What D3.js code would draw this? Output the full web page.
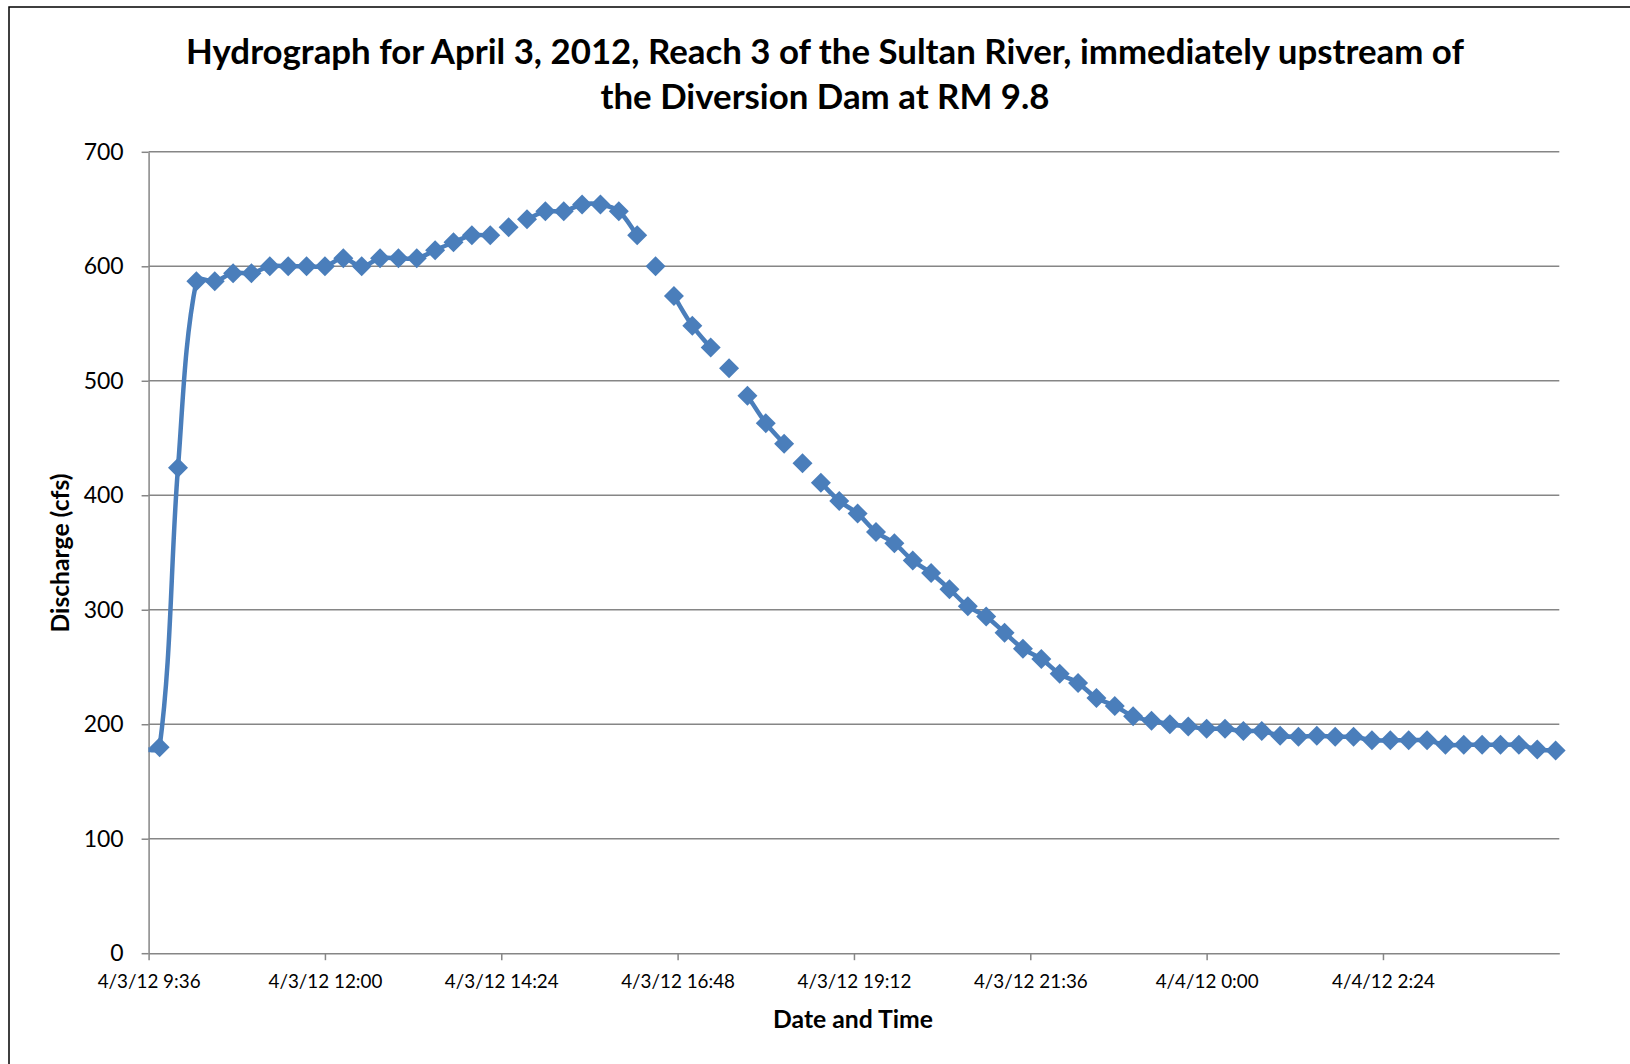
<!DOCTYPE html>
<html>
<head>
<meta charset="utf-8">
<script src="https://cdn.jsdelivr.net/npm/d3@7"></script>
<style>
  body { margin: 0; background: #fff; }
  svg { display: block; }
</style>
</head>
<body>
<div id="chart"></div>
<script>
// readings, 15 min apart (first one sits left of the axis and gets clipped)
var times = [
  "4/3/12 9:30", "4/3/12 9:45", "4/3/12 10:00", "4/3/12 10:15", "4/3/12 10:30", "4/3/12 10:45",
  "4/3/12 11:00", "4/3/12 11:15", "4/3/12 11:30", "4/3/12 11:45", "4/3/12 12:00", "4/3/12 12:15",
  "4/3/12 12:30", "4/3/12 12:45", "4/3/12 13:00", "4/3/12 13:15", "4/3/12 13:30", "4/3/12 13:45",
  "4/3/12 14:00", "4/3/12 14:15", "4/3/12 14:30", "4/3/12 14:45", "4/3/12 15:00", "4/3/12 15:15",
  "4/3/12 15:30", "4/3/12 15:45", "4/3/12 16:00", "4/3/12 16:15", "4/3/12 16:30", "4/3/12 16:45",
  "4/3/12 17:00", "4/3/12 17:15", "4/3/12 17:30", "4/3/12 17:45", "4/3/12 18:00", "4/3/12 18:15",
  "4/3/12 18:30", "4/3/12 18:45", "4/3/12 19:00", "4/3/12 19:15", "4/3/12 19:30", "4/3/12 19:45",
  "4/3/12 20:00", "4/3/12 20:15", "4/3/12 20:30", "4/3/12 20:45", "4/3/12 21:00", "4/3/12 21:15",
  "4/3/12 21:30", "4/3/12 21:45", "4/3/12 22:00", "4/3/12 22:15", "4/3/12 22:30", "4/3/12 22:45",
  "4/3/12 23:00", "4/3/12 23:15", "4/3/12 23:30", "4/3/12 23:45", "4/4/12 0:00", "4/4/12 0:15",
  "4/4/12 0:30", "4/4/12 0:45", "4/4/12 1:00", "4/4/12 1:15", "4/4/12 1:30", "4/4/12 1:45",
  "4/4/12 2:00", "4/4/12 2:15", "4/4/12 2:30", "4/4/12 2:45", "4/4/12 3:00", "4/4/12 3:15",
  "4/4/12 3:30", "4/4/12 3:45", "4/4/12 4:00", "4/4/12 4:15", "4/4/12 4:30", "4/4/12 4:45"
];
var discharge = [
  178, 180, 424, 587, 587, 594,
  594, 600, 600, 600, 600, 607,
  600, 607, 607, 607, 614, 621,
  627, 627, 634, 641, 648, 648,
  654, 654, 648, 627, 600, 574,
  548, 529, 511, 487, 463, 445,
  428, 411, 395, 384, 368, 358,
  343, 332, 318, 303, 294, 280,
  266, 257, 244, 236, 223, 216,
  207, 203, 200, 198, 196, 196,
  194, 194, 190, 189, 190, 189,
  189, 186, 186, 186, 186, 182,
  182, 182, 182, 182, 178, 177
];
// the line is not drawn between these readings and the next one
var gapAfter = ["4/3/12 14:15", "4/3/12 14:30", "4/3/12 16:15", "4/3/12 16:30",
                "4/3/12 17:15", "4/3/12 17:30", "4/3/12 18:15", "4/3/12 18:30"];

var xTickLabels = ["4/3/12 9:36", "4/3/12 12:00", "4/3/12 14:24", "4/3/12 16:48",
                   "4/3/12 19:12", "4/3/12 21:36", "4/4/12 0:00", "4/4/12 2:24"];
var xDomain = ["4/3/12 9:36", "4/4/12 4:48"];
var yTicks = [0, 100, 200, 300, 400, 500, 600, 700];

var titleLines = ["Hydrograph for April 3, 2012, Reach 3 of the Sultan River, immediately upstream of",
                  "the Diversion Dam at RM 9.8"];
var xTitle = "Date and Time";
var yTitle = "Discharge (cfs)";

var W = 1630, H = 1064;
var plot = { left: 148.6, right: 1559.3, top: 151.8, bottom: 953.2 };
var blue = "#4a7ebb", grey = "#868686";
var font = "Lato, 'Open Sans', sans-serif";

var parse = d3.timeParse("%m/%d/%y %H:%M");

var pts = times.map(function (t, i) { return { t: parse(t), v: discharge[i], key: t }; });

// split into drawn pieces
var pieces = [[]];
pts.forEach(function (p) {
    pieces[pieces.length - 1].push(p);
    if (gapAfter.indexOf(p.key) >= 0) pieces.push([]);
});

var x = d3.scaleTime()
    .domain(xDomain.map(parse))
    .range([plot.left, plot.right]);
var y = d3.scaleLinear()
    .domain([0, 700])
    .range([plot.bottom, plot.top]);

var svg = d3.select("#chart").append("svg")
    .attr("width", W)
    .attr("height", H);

svg.append("rect").attr("width", W).attr("height", H).attr("fill", "#fff");

// chart area border (runs off right/bottom in the original)
svg.append("rect")
    .attr("x", 9).attr("y", 7)
    .attr("width", W + 20).attr("height", H + 20)
    .attr("fill", "none")
    .attr("stroke", "#000")
    .attr("stroke-width", 1.5);

function fitText(sel, target) {
    var fs = parseFloat(sel.attr("font-size"));
    var len = sel.node().getComputedTextLength();
    return fs * target / len;
}

// spreadsheet-style smoothing: tangent along neighbour chord,
// handle length a third of the segment it belongs to
function smoothPath(data) {
    var P = data.map(function (d) { return [x(d.t), y(d.v)]; });
    var p = d3.path();
    p.moveTo(P[0][0], P[0][1]);
    if (P.length === 2) { p.lineTo(P[1][0], P[1][1]); return p.toString(); }
    function tan(i) {
        var a = P[Math.max(i - 1, 0)], b = P[Math.min(i + 1, P.length - 1)];
        var dx = b[0] - a[0], dy = b[1] - a[1], l = Math.sqrt(dx * dx + dy * dy) || 1;
        return [dx / l, dy / l];
    }
    for (var i = 0; i < P.length - 1; i++) {
        var a = P[i], b = P[i + 1];
        var seg = Math.sqrt((b[0] - a[0]) * (b[0] - a[0]) + (b[1] - a[1]) * (b[1] - a[1])) / 3;
        var ta = tan(i), tb = tan(i + 1);
        p.bezierCurveTo(a[0] + ta[0] * seg, a[1] + ta[1] * seg,
                        b[0] - tb[0] * seg, b[1] - tb[1] * seg,
                        b[0], b[1]);
    }
    return p.toString();
}

// gridlines
svg.append("g")
    .selectAll("line.grid")
    .data(yTicks.filter(function (d) { return d > 0; }))
    .enter()
    .append("line")
    .attr("class", "grid")
    .attr("x1", plot.left).attr("x2", plot.right)
    .attr("y1", function (d) { return y(d); })
    .attr("y2", function (d) { return y(d); })
    .attr("stroke", grey)
    .attr("stroke-width", 1.5);

// y axis
var yAxis = svg.append("g")
    .attr("transform", "translate(" + plot.left + ",0)")
    .call(d3.axisLeft(y).tickValues(yTicks).tickSize(7).tickPadding(18).tickSizeOuter(0));
yAxis.select(".domain").attr("stroke", grey).attr("stroke-width", 1.5);
yAxis.selectAll(".tick line").attr("stroke", grey).attr("stroke-width", 1.5);
yAxis.selectAll("text").attr("font-family", font).attr("font-size", 22).attr("fill", "#000");
var yfs = fitText(yAxis.select(".tick:last-of-type text"), 40);
yAxis.selectAll("text").attr("font-size", yfs);

// x axis
var xAxis = svg.append("g")
    .attr("transform", "translate(0," + plot.bottom + ")")
    .call(d3.axisBottom(x)
        .tickValues(xTickLabels.map(parse))
        .tickFormat(function (d, i) { return xTickLabels[i]; })
        .tickSize(7).tickPadding(14).tickSizeOuter(0));
xAxis.select(".domain").attr("stroke", grey).attr("stroke-width", 1.5);
xAxis.selectAll(".tick line").attr("stroke", grey).attr("stroke-width", 1.5);
xAxis.selectAll("text").attr("font-family", font).attr("font-size", 17).attr("fill", "#000");
var xfs = fitText(xAxis.select(".tick text"), 103);
xAxis.selectAll("text").attr("font-size", xfs);

// series, clipped to the plot area
svg.append("clipPath").attr("id", "plotclip")
    .append("rect")
    .attr("x", plot.left).attr("y", plot.top - 20)
    .attr("width", plot.right - plot.left + 12)
    .attr("height", plot.bottom - plot.top + 20);

var series = svg.append("g").attr("clip-path", "url(#plotclip)");

series.selectAll("path.piece")
    .data(pieces.filter(function (p) { return p.length > 1; }))
    .enter()
    .append("path")
    .attr("class", "piece")
    .attr("d", smoothPath)
    .attr("fill", "none")
    .attr("stroke", blue)
    .attr("stroke-width", 4.5)
    .attr("stroke-linejoin", "round");

var diamond = d3.symbol().type(d3.symbolSquare).size(200);
series.selectAll("path.mark")
    .data(pts)
    .enter()
    .append("path")
    .attr("class", "mark")
    .attr("d", diamond)
    .attr("transform", function (d) { return "translate(" + x(d.t) + "," + y(d.v) + ") rotate(45)"; })
    .attr("fill", blue);

// titles
var title = svg.append("g")
    .selectAll("text")
    .data(titleLines)
    .enter()
    .append("text")
    .attr("x", 825)
    .attr("y", function (d, i) { return 64 + i * 45; })
    .attr("text-anchor", "middle")
    .attr("font-family", font)
    .attr("font-weight", "bold")
    .attr("font-size", 30)
    .attr("fill", "#000")
    .text(function (d) { return d; });
var tfs = fitText(d3.select(title.nodes()[0]), 1278);
title.attr("font-size", tfs);

var xt = svg.append("text")
    .attr("x", 853).attr("y", 1028)
    .attr("text-anchor", "middle")
    .attr("font-family", font)
    .attr("font-weight", "bold")
    .attr("font-size", 21)
    .attr("fill", "#000")
    .text(xTitle);
xt.attr("font-size", fitText(xt, 160));

var yt = svg.append("text")
    .attr("transform", "translate(60,553) rotate(-90)")
    .attr("text-anchor", "middle")
    .attr("dy", "0.35em")
    .attr("font-family", font)
    .attr("font-weight", "bold")
    .attr("font-size", 21)
    .attr("fill", "#000")
    .text(yTitle);
yt.attr("font-size", fitText(yt, 159));
</script>
</body>
</html>
